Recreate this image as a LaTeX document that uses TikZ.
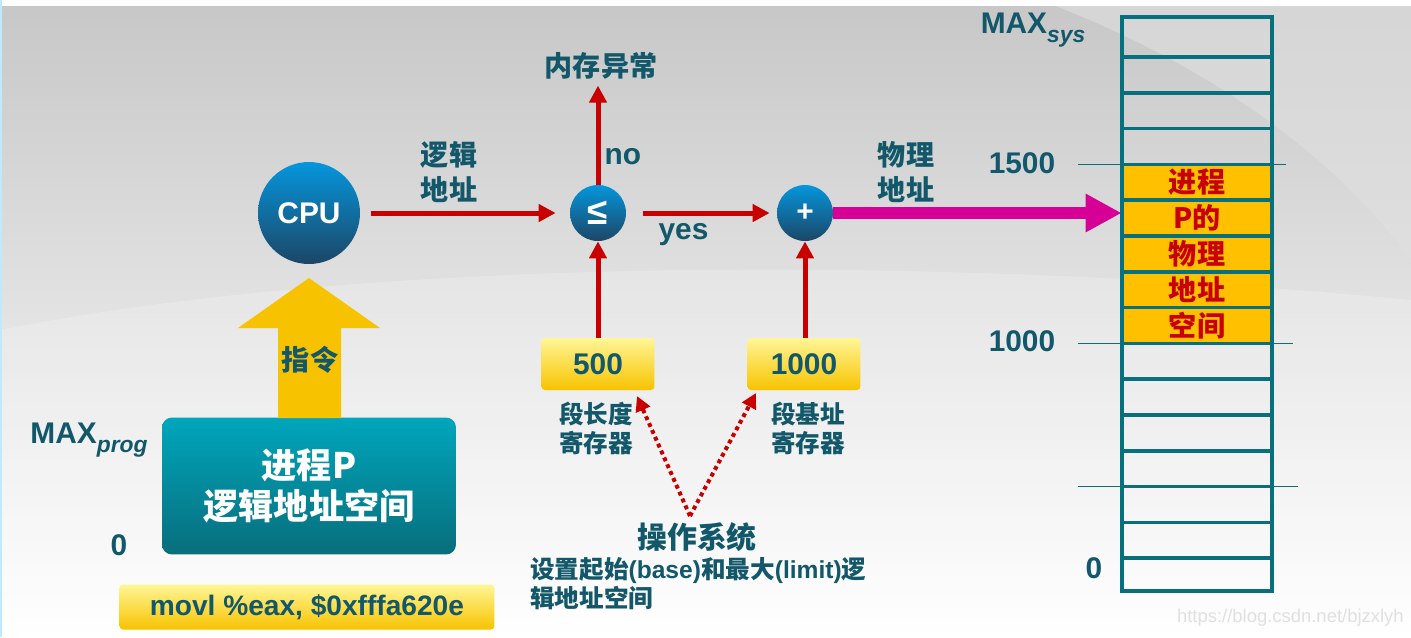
\documentclass[tikz,border=0pt]{standalone}
\usepackage{fontspec}
\setmainfont{Liberation Sans}
\newfontfamily\cjk{Noto Sans CJK SC}
\usetikzlibrary{arrows.meta,calc,positioning}

\definecolor{txtteal}{RGB}{18,88,106}
\definecolor{arrred}{RGB}{200,0,0}
\definecolor{phypink}{RGB}{214,0,150}
\definecolor{gold}{RGB}{247,195,0}
\definecolor{paleyellow}{RGB}{255,246,150}
\definecolor{cellgold}{RGB}{255,192,0}
\definecolor{rim}{RGB}{8,112,124}
\definecolor{proctop}{RGB}{0,166,188}
\definecolor{procbot}{RGB}{8,110,124}
\definecolor{balltop}{RGB}{5,150,220}
\definecolor{ballbot}{RGB}{28,70,102}

\begin{document}
\begin{tikzpicture}[
    x=0.02cm, y=-0.02cm,
    lbl/.style={text=txtteal, align=center, font=\bfseries\cjk\fontsize{16}{19.5}\selectfont},
    smalllbl/.style={text=txtteal, align=center, font=\bfseries\cjk\fontsize{14}{16.5}\selectfont},
    latinlbl/.style={text=txtteal, font=\bfseries\fontsize{17}{20}\selectfont},
    ball/.style={circle, inner sep=0pt, top color=balltop, bottom color=ballbot, text=white, font=\bfseries\fontsize{17}{20}\selectfont},
    regbox/.style={rounded corners=2pt, top color=paleyellow, bottom color=gold, minimum width=2.26cm, minimum height=1.04cm, inner sep=0pt, text=txtteal, font=\bfseries\fontsize{17}{20}\selectfont},
    cell/.style={fill=cellgold, minimum width=3.0cm, minimum height=0.716cm, inner sep=0pt, text=arrred, font=\bfseries\cjk\fontsize{16}{19}\selectfont},
    redarrow/.style={-{Triangle[length=0.34cm,width=0.34cm]}, line width=0.1cm, arrred},
    dotarrow/.style={-{Triangle[length=0.3cm,width=0.3cm]}, line width=0.08cm, arrred, dash pattern=on 0.08cm off 0.07cm},
    pinkarrow/.style={-{Triangle[length=0.72cm,width=0.72cm]}, line width=0.24cm, phypink},
    rimline/.style={rim, line width=0.07cm},
    tick/.style={rim, line width=0.03cm}
]
\useasboundingbox (0,0) rectangle (1411,637);
\shade[top color=black!22, middle color=black!15, bottom color=white] (0,0) rectangle (1411,637);
\fill[black!12, opacity=0.6] (1040,0) .. controls (1200,60) and (1330,150) .. (1411,260) -- (1411,0) -- cycle;
\fill[white, opacity=0.2] (0,330) .. controls (400,250) and (1000,260) .. (1411,300) -- (1411,637) -- (0,637) -- cycle;
\fill[white] (0,0) rectangle (1411,6);
\draw[cyan!25, line width=0.05cm] (1,0) -- (1,637);

\node[ball, minimum size=2.04cm] (cpu) at (309,213) {CPU};
\node[ball, minimum size=1.12cm, font=\bfseries\fontsize{21}{24}\selectfont] (cmp) at (598,213) {≤};
\node[ball, minimum size=1.12cm] (add) at (805,213) {+};
\node[lbl] (exc) at (601,66) {内存异常};
\node[lbl] (lognote) at (449,172) {逻辑\\地址};
\node[lbl] (phynote) at (906,172) {物理\\地址};

\draw[redarrow, shorten <=0.22cm, shorten >=0.28cm] (cpu) -- (cmp);
\draw[redarrow] (cmp.north) -- node[pos=0.28, right=-1pt, latinlbl] {no} (cmp |- exc.south);
\draw[redarrow, shorten <=0.34cm, shorten >=0.14cm] (cmp) -- node[pos=0.38, below=1pt, latinlbl] {yes} (add);

\node[regbox] (limit) at (598,364) {500};
\node[regbox] (base) at (804,364) {1000};
\node[smalllbl] (limitnote) at (596,428) {段长度\\寄存器};
\node[smalllbl] (basenote) at (808,428) {段基址\\寄存器};
\draw[redarrow] (limit.north) -- (cmp.south);
\draw[redarrow] (limit.north -| add) -- (add.south);

\node[lbl, font=\bfseries\cjk\fontsize{17}{20}\selectfont] (os) at (697,537) {操作系统};
\node[smalllbl, align=left, anchor=west, font=\bfseries\fontsize{14}{16.5}\selectfont] (osnote) at (524,584)
  {{\cjk 设置起始}(base){\cjk 和最大}(limit){\cjk 逻}\\{\cjk 辑地址空间}};
\coordinate (split) at (690,516);
\coordinate (limhook) at (637,396);
\coordinate (basehook) at (756,393);
\draw[dotarrow] (split) -- (limhook);
\draw[dotarrow] (split) -- (basehook);

\node[rounded corners=0.2cm, top color=proctop, bottom color=procbot, minimum width=5.88cm, minimum height=2.74cm,
  text=white, align=center, font=\bfseries\cjk\fontsize{20}{23}\selectfont] (proc) at (309,486) {进程P\\逻辑地址空间};
\fill[gold] (278,418) -- (278,328) -- (238,328) -- (309,278) -- (380,328) -- (341,328) -- (341,418) -- cycle;
\node[lbl] (instr) at (310,360) {指令};
\node[latinlbl, inner sep=0pt] (maxprog) at (89,440) {MAX\raisebox{-0.55ex}{\itshape\fontsize{13}{15}\selectfont prog}};
\node[latinlbl] (progzero) at (119,545) {0};
\node[rounded corners=2pt, top color=paleyellow, bottom color=gold, minimum width=7.5cm, minimum height=0.9cm,
  text=txtteal, font=\bfseries\fontsize{16}{19}\selectfont] (movl) at (307,607) {movl \%eax, \$0xfffa620e};

\foreach \t [count=\k] in {进程,P的,物理,地址,空间}
  \node[cell] (seg\k) at (1197,{57+35.8*(\k+2.5)}) {\t};
\draw[rimline] (1122,17) rectangle (1272,591);
\foreach \k in {0,...,14}
  \draw[rimline] (1122,{57+35.8*\k}) -- (1272,{57+35.8*\k});
\draw[tick] (1078,164.4) -- (1286,164.4);
\draw[tick] (1078,343.4) -- (1293,343.4);
\draw[tick] (1078,486.6) -- (1298,486.6);
\node[latinlbl, inner sep=0pt] (maxsys) at (1033,30) {MAX\raisebox{-0.55ex}{\itshape\fontsize{13}{15}\selectfont sys}};
\node[latinlbl] (top1500) at (1022,163) {1500};
\node[latinlbl] (mid1000) at (1022,341) {1000};
\node[latinlbl] (syszero) at (1094,568) {0};

\draw[pinkarrow] (add.east) -- (add.east -| seg2.west);

\node[text=black!12, anchor=east, inner sep=0pt, font=\fontsize{10.5}{12}\selectfont] (mark) at (1404,618) {https://blog.csdn.net/bjzxlyh};
\end{tikzpicture}
\end{document}
